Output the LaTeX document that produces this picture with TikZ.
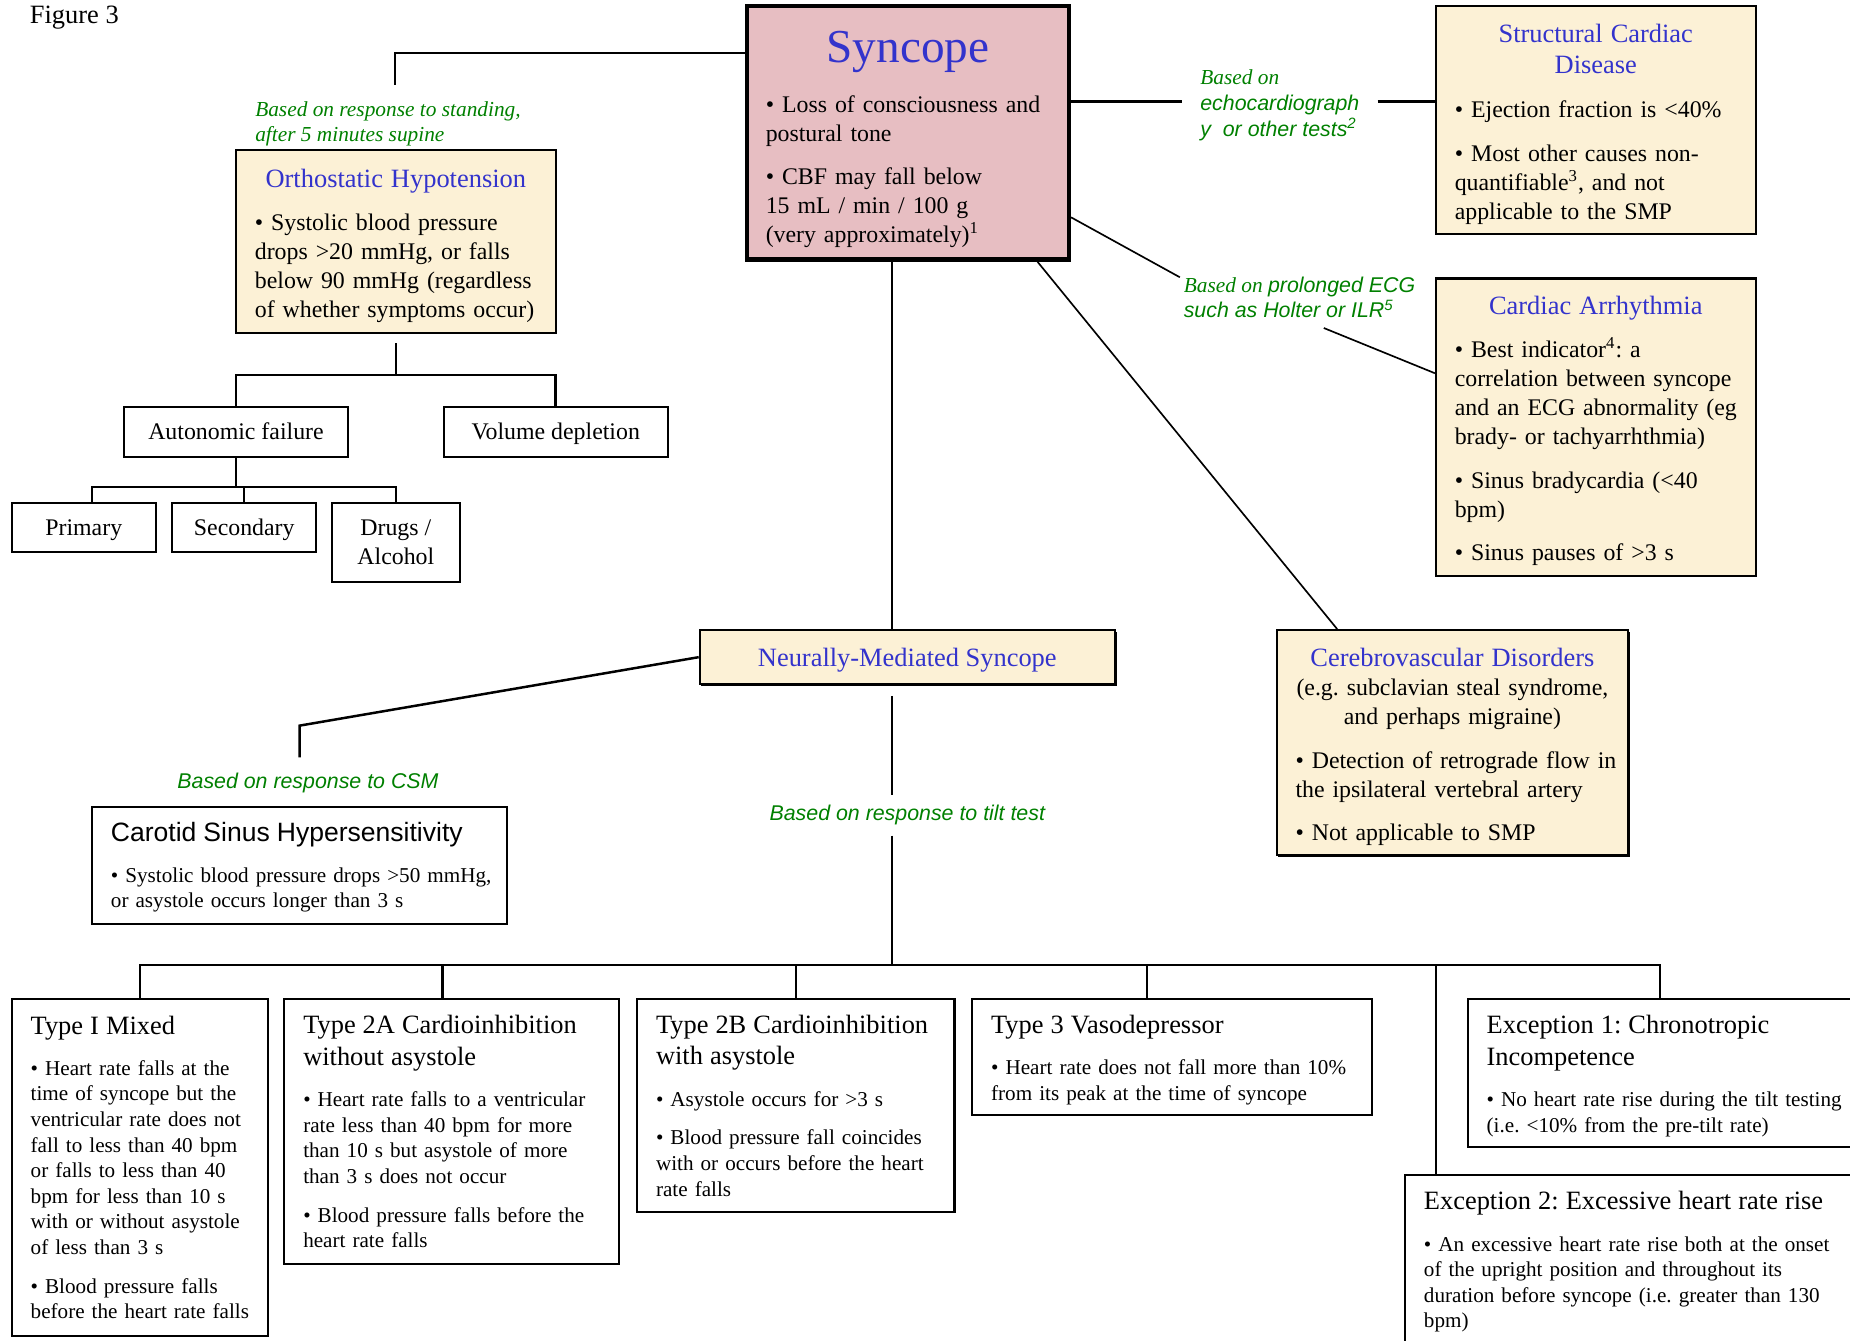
\documentclass[tikz,border=0pt]{standalone}
\usepackage{fontspec}
\setmainfont{Liberation Serif}
\newfontfamily\arialf{Liberation Sans}
\usetikzlibrary{calc,shadows}
\definecolor{ttlblue}{RGB}{51,51,204}
\definecolor{lblgreen}{RGB}{0,128,0}
\definecolor{synpink}{RGB}{231,190,194}
\definecolor{cream}{RGB}{252,241,214}
\newcommand\bodyfont{\fontsize{11.5}{14}\selectfont}
\newcommand\smallbody{\fontsize{10.2}{12.35}\selectfont}
\newcommand\ttlfont{\fontsize{12.75}{15.4}\selectfont}
\newcommand\lblfont{\fontsize{10.3}{12.5}\selectfont}
\newcommand\bluettl[1]{{\centering\ttlfont\color{ttlblue}#1\par}}
\newcommand\spill{\rightskip=-0.5cm plus 1fil\relax}
\newcommand\sink[1]{\par\nointerlineskip\vskip-#1\hbox{}}
\frenchspacing
\tikzset{
  box/.style={draw, line width=1pt, inner xsep=0.32cm, inner ysep=2pt, align=left,
    execute at begin node={\spill}},
  shade/.style={drop shadow={shadow xshift=0.8pt, shadow yshift=-0.8pt, opacity=1, fill=black}},
  creambox/.style={box, fill=cream, font=\bodyfont, shade},
  whitebox/.style={box, fill=white, font=\smallbody},
  smallbox/.style={draw, line width=1pt, fill=white, font=\bodyfont, align=center, minimum height=0.84cm},
  onebox/.style={smallbox, text height=10pt, text depth=2.3pt},
  conn/.style={line width=1.2pt},
  thinconn/.style={line width=0.8pt},
  lbl/.style={text=lblgreen, font=\lblfont\itshape, inner sep=0pt, align=left}
}

\begin{document}
\begin{tikzpicture}[x=0.02cm, y=-0.02cm]
		\useasboundingbox (0,0) rectangle (1568,1136);
		\clip (0,0) rectangle (1568,1136);
		
		\node[anchor=west, font=\ttlfont, inner sep=0pt] (fig) at (25,15) {Figure 3};
		
		%%%%% TOP ROW %%%%%
		\node[box, fill=synpink, line width=2pt, font=\bodyfont, text width=4.82cm, minimum height=4.30cm,
		  drop shadow={shadow xshift=0.8pt, shadow yshift=-0.8pt, opacity=1, fill=black!60}] (syn) at (769.5,112.5)
		  {{\centering\fontsize{22.8}{26}\selectfont\color{ttlblue}Syncope\par}\vspace{10pt}
		   \textbullet\ Loss of consciousness and\\ postural tone\\[7pt]
		   \textbullet\ CBF may fall below\\ 15 mL / min / 100 g\\ (very approximately)\textsuperscript{1}\sink{6.5pt}};
		
		\node[creambox, text width=4.78cm, minimum height=3.10cm] (oh) at (335.5,204.5)
		  {\bluettl{Orthostatic Hypotension}\vspace{7pt}
		   \textbullet\ Systolic blood pressure\\ drops >20 mmHg, or falls\\ below 90 mmHg (regardless\\ of whether symptoms occur)\sink{4.5pt}};
		
		\node[creambox, text width=4.78cm, minimum height=3.86cm] (scd) at (1352.5,101.5)
		  {\bluettl{Structural Cardiac\\ Disease}\vspace{7pt}
		   \textbullet\ Ejection fraction is <40\%\\[7pt]
		   \textbullet\ Most other causes non-\\ quantifiable\textsuperscript{3}, and not\\ applicable to the SMP\sink{4pt}};
		
		\node[creambox, text width=4.78cm, minimum height=5.04cm] (ca) at (1352.5,362)
		  {\bluettl{Cardiac Arrhythmia}\vspace{7pt}
		   \textbullet\ Best indicator\textsuperscript{4}: a\\ correlation between syncope\\ and an ECG abnormality (eg\\ brady- or tachyarrhthmia)\\[7pt]
		   \textbullet\ Sinus bradycardia (<40\\ bpm)\\[7pt]
		   \textbullet\ Sinus pauses of >3 s\sink{3.5pt}};
		
		%%%%% ORTHOSTATIC TREE %%%%%
		\node[onebox, minimum width=3.8cm] (auto) at (200,366) {Autonomic failure};
		\node[onebox, minimum width=3.8cm] (vol) at (471,366) {Volume depletion};
		\node[onebox, minimum width=2.44cm] (prim) at (71,447) {Primary};
		\node[onebox, minimum width=2.44cm] (sec) at (207,447) {Secondary};
		\node[smallbox, minimum width=2.18cm, minimum height=1.34cm] (drug) at (335.5,459.5) {Drugs /\\ Alcohol};
		
		%%%%% MIDDLE ROW %%%%%
		\node[draw, line width=1pt, fill=cream, shade, minimum width=7.04cm, minimum height=0.92cm,
		  text height=11.5pt, text depth=2.7pt] (nms) at (769,557)
		  {\ttlfont\color{ttlblue}Neurally-Mediated Syncope};
		
		\node[creambox, text width=5.32cm, minimum height=3.82cm] (cvd) at (1231,629.5)
		  {{\centering{\ttlfont\color{ttlblue}Cerebrovascular Disorders}\\ (e.g. subclavian steal syndrome,\\ and perhaps migraine)\par}\vspace{7pt}
		   \textbullet\ Detection of retrograde flow in\\ the ipsilateral vertebral artery\\[7pt]
		   \textbullet\ Not applicable to SMP\sink{4pt}};
		
		\node[whitebox, text width=6.40cm, minimum height=1.98cm] (csh) at (254,733.5)
		  {{\arialf\fontsize{12.8}{15.4}\selectfont Carotid Sinus Hypersensitivity\par}\vspace{7.5pt}
		   \textbullet\ Systolic blood pressure drops >50 mmHg,\\ or asystole occurs longer than 3 s\sink{1.7pt}};
		
		%%%%% TILT TEST TYPES %%%%%
		\node[whitebox, text width=3.70cm, minimum height=5.70cm] (t1) at (118.5,989.5)
		  {{\ttlfont Type I Mixed\par}\vspace{7.5pt}
		   \textbullet\ Heart rate falls at the\\ time of syncope but the\\ ventricular rate does not\\ fall to less than 40 bpm\\ or falls to less than 40\\ bpm for less than 10 s\\ with or without asystole\\ of less than 3 s\\[6.4pt]
		   \textbullet\ Blood pressure falls\\ before the heart rate falls};
		
		\node[whitebox, text width=5.04cm, minimum height=4.48cm] (t2a) at (383,959)
		  {{\ttlfont Type 2A Cardioinhibition\\ without asystole\par}\vspace{7.5pt}
		   \textbullet\ Heart rate falls to a ventricular\\ rate less than 40 bpm for more\\ than 10 s but asystole of more\\ than 3 s does not occur\\[6.4pt]
		   \textbullet\ Blood pressure falls before the\\ heart rate falls};
		
		\node[whitebox, text width=4.74cm, minimum height=3.60cm] (t2b) at (674.5,937)
		  {{\ttlfont Type 2B Cardioinhibition\\ with asystole\par}\vspace{7.5pt}
		   \textbullet\ Asystole occurs for >3 s\\[6.4pt]
		   \textbullet\ Blood pressure fall coincides\\ with or occurs before the heart\\ rate falls};
		
		\node[whitebox, text width=6.14cm, minimum height=1.96cm] (t3) at (993.5,896)
		  {{\ttlfont Type 3 Vasodepressor\par}\vspace{7.5pt}
		   \textbullet\ Heart rate does not fall more than 10\%\\ from its peak at the time of syncope\sink{2.8pt}};
		
		\node[whitebox, text width=6.48cm, minimum height=2.50cm] (ex1) at (1422,909.5)
		  {{\ttlfont Exception 1: Chronotropic\\ Incompetence\par}\vspace{7.5pt}
		   \textbullet\ No heart rate rise during the tilt testing\\ (i.e. <10\% from the pre-tilt rate)\sink{2.8pt}};
		
		\node[whitebox, text width=7.56cm, inner ysep=0.28cm, anchor=north west] (ex2) at (1190,995)
		  {{\ttlfont Exception 2: Excessive heart rate rise\par}\vspace{7.5pt}
		   \textbullet\ An excessive heart rate rise both at the onset\\ of the upright position and throughout its\\ duration before syncope (i.e. greater than 130\\ bpm)\par\vspace*{1.2cm}};
		
		%%%%% LABELS %%%%%
		\node[lbl, anchor=west] (lstand) at (216,105) {Based on response to standing,\\ after 5 minutes supine};
		\node[lbl, anchor=west, inner xsep=0.3cm] (lecho) at (1002,89)
		  {Based on\\ {\arialf echocardiograph}\\ {\arialf y\ \ or other tests\textsuperscript{2}}};
		\node[lbl, anchor=west] (lecg) at (1003,252)
		  {Based on {\arialf prolonged ECG}\\ {\arialf such as Holter or ILR\textsuperscript{5}}};
		\node[lbl, align=center] (lcsm) at (261,664) {\arialf Based on response to CSM};
		\node[lbl, align=center, inner ysep=0.17cm] (ltilt) at (769,691) {\arialf Based on response to tilt test};
		
		%%%%% CONNECTORS %%%%%
		\coordinate (trunk) at (756,0);
		\coordinate (ohtop) at (335,72);
		\coordinate (echoline) at (0,86);
		\coordinate (ecgin) at (1000,235);
		\coordinate (ecgout) at (1122,278);
		\coordinate (cshbend) at (254,615);
		\coordinate (cshend) at (254,642);
		\coordinate (hbar) at (0,818);
		
		\draw[conn] (syn.west |- 0,45) -| (ohtop);
		\draw[conn] (syn.east |- echoline) -- (lecho.west |- echoline);
		\draw[conn] (lecho.east |- echoline) -- (scd.west |- echoline);
		\draw[thinconn] ($(syn.north east)!0.828!(syn.south east)$) -- (ecgin);
		\draw[thinconn] (ecgout) -- ($(ca.north west)!0.32!(ca.south west)$);
		\draw[thinconn] ($(syn.south west)!0.897!(syn.south east)$) -- ($(cvd.north west)!0.174!(cvd.north east)$);
		\draw[conn] (syn.south -| trunk) -- (nms.north -| trunk);
		
		\draw[conn, shorten <=0.16cm] (oh.south) -- ++(0,35) coordinate (ohj);
		\draw[conn] (auto.north) |- (ohj) -| (vol.north);
		\draw[conn] (auto.south) -- ++(0,25) coordinate (afj);
		\draw[conn] ([xshift=0.14cm]prim.north) |- (afj) -| (drug.north);
		\draw[conn] (sec.north) -- (sec.north |- afj);
		
		\draw[conn] (nms.west) -- (cshbend) -- (cshend);
		\draw[conn, shorten <=0.18cm] (nms.south -| trunk) -- (ltilt.north -| trunk);
		\draw[conn] (ltilt.south -| trunk) -- (trunk |- hbar);
		
		\draw[conn] (t1.north) |- (hbar -| 1407,0) -- (ex1.north -| 1407,0);
		\draw[conn] (t2a.north -| 375,0) -- (hbar -| 375,0);
		\draw[conn] (t2b.north) -- (t2b.north |- hbar);
		\draw[conn] (t3.north -| 972,0) -- (hbar -| 972,0);
		\draw[conn] (ex2.north -| 1217,0) -- (hbar -| 1217,0);
\end{tikzpicture}
\end{document}
